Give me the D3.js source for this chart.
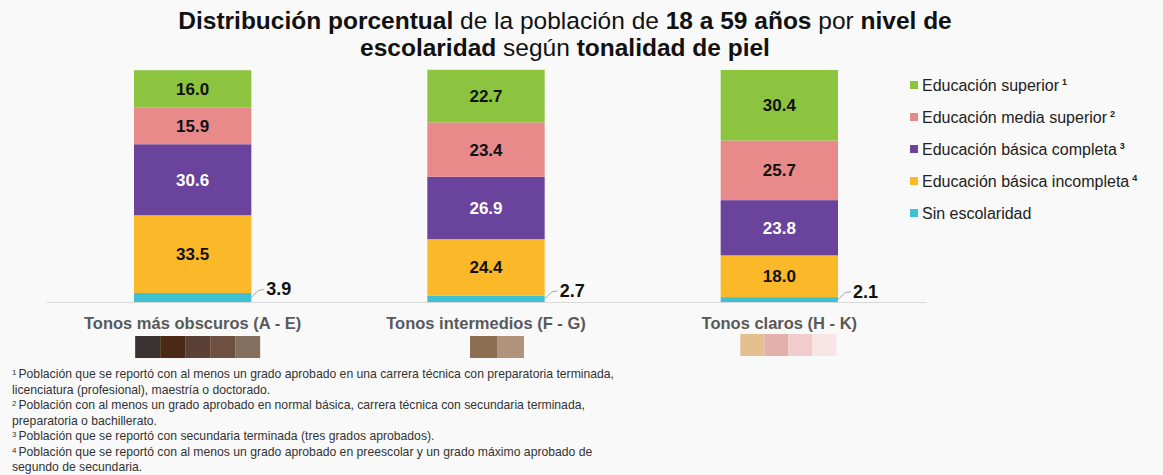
<!DOCTYPE html>
<html>
<head>
<meta charset="utf-8">
<script src="https://cdn.jsdelivr.net/npm/d3@7"></script>
<style>
  body { margin: 0; background: #f9f9f9; }
  svg { display: block; font-family: "Liberation Sans", Arial, sans-serif; }
</style>
</head>
<body>
<svg id="chart"></svg>
<script>
const categorias = ["Tonos más obscuros (A - E)", "Tonos intermedios (F - G)", "Tonos claros (H - K)"];
const niveles = ["Sin escolaridad", "Educación básica incompleta", "Educación básica completa", "Educación media superior", "Educación superior"];
const notas = ["", "4", "3", "2", "1"];
const colores = ["#3ec1d3", "#fbb829", "#6a449c", "#e88a8a", "#8cc43f"];

const sinEscolaridad = [3.9, 2.7, 2.1];
const basicaIncompleta = [33.5, 24.4, 18.0];
const basicaCompleta = [30.6, 26.9, 23.8];
const mediaSuperior = [15.9, 23.4, 25.7];
const superior = [16.0, 22.7, 30.4];

const tonos = [
  ["#383330", "#4a2a14", "#5a4035", "#6e5040", "#857060"],
  ["#8c6e52", "#b0937a"],
  ["#e4c08e", "#e4b0ac", "#f0cccc", "#f8e6e6"]
];

const footnotes = [
  ["1", "Población que se reportó con al menos un grado aprobado en una carrera técnica con preparatoria terminada,"],
  ["", "licenciatura (profesional), maestría o doctorado."],
  ["2", "Población con al menos un grado aprobado en normal básica, carrera técnica con secundaria terminada,"],
  ["", "preparatoria o bachillerato."],
  ["3", "Población que se reportó con secundaria terminada (tres grados aprobados)."],
  ["4", "Población que se reportó con al menos un grado aprobado en preescolar y un grado máximo aprobado de"],
  ["", "segundo de secundaria."]
];

const WIDTH = 1163;
const HEIGHT = 475;

const svg = d3.select("#chart")
  .attr("width", WIDTH)
  .attr("height", HEIGHT);

svg.append("rect").attr("width", WIDTH).attr("height", HEIGHT).attr("fill", "#f9f9f9");

// titulo
const titulo = svg.append("g")
  .attr("font-size", 24.5)
  .attr("fill", "#111");
const linea1 = [["Distribución porcentual", true], [" de la población de ", false], ["18 a 59 años", true], [" por ", false], ["nivel de", true]];
const linea2 = [["escolaridad", true], [" según ", false], ["tonalidad de piel", true]];
[linea1, linea2].forEach((linea, i) => {
  const t = titulo.append("text")
    .attr("x", 565)
    .attr("y", 29 + i * 27)
    .attr("text-anchor", "middle");
  linea.forEach(([txt, b]) => {
    t.append("tspan").attr("font-weight", b ? "bold" : "normal").text(txt);
  });
});

const series = [sinEscolaridad, basicaIncompleta, basicaCompleta, mediaSuperior, superior];
const tabla = categorias.map((c, i) => {
  const row = { cat: c };
  niveles.forEach((n, j) => row[n] = series[j][i]);
  return row;
});
const stack = d3.stack().keys(niveles)(tabla);

const x = d3.scaleBand()
  .domain(categorias)
  .range([46, 926])
  .paddingInner(0.6)
  .paddingOuter(0.3);

const y = d3.scaleLinear()
  .domain([0, 100])
  .range([302, 70]);

const color = d3.scaleOrdinal().domain(niveles).range(colores);

// eje
svg.append("g")
  .attr("transform", `translate(0, ${y(0)})`)
  .call(d3.axisBottom(x).tickSize(0).tickSizeOuter(0).tickFormat(""))
  .call(g => g.select(".domain").attr("stroke", "#d9d9d9"));

const capas = svg.append("g")
  .selectAll("g")
  .data(stack)
  .join("g")
  .attr("fill", d => color(d.key));

capas.selectAll("rect")
  .data(d => d)
  .join("rect")
  .attr("x", d => x(d.data.cat))
  .attr("y", d => y(d[1]))
  .attr("width", x.bandwidth())
  .attr("height", d => y(d[0]) - y(d[1]));

// etiquetas dentro
stack.forEach((capa, j) => {
  if (j === 0) return;
  svg.append("g").selectAll("text")
    .data(capa)
    .join("text")
    .attr("x", d => x(d.data.cat) + x.bandwidth() / 2)
    .attr("y", d => (y(d[0]) + y(d[1])) / 2 + 6)
    .attr("text-anchor", "middle")
    .attr("font-size", 17)
    .attr("font-weight", "bold")
    .attr("fill", j === 2 ? "#fff" : "#111")
    .text(d => d3.format(".1f")(d[1] - d[0]));
});

// etiquetas fuera (sin escolaridad)
const fuera = svg.append("g").selectAll("g")
  .data(stack[0])
  .join("g");
fuera.append("path")
  .attr("d", d => {
    const x0 = x(d.data.cat) + x.bandwidth();
    const y0 = y(d[1] / 2);
    return `M${x0},${y0} L${x0 + 7},${y0 - 7} L${x0 + 13},${y0 - 8}`;
  })
  .attr("fill", "none")
  .attr("stroke", "#a6a6a6")
  .attr("stroke-width", 1);
fuera.append("text")
  .attr("x", d => x(d.data.cat) + x.bandwidth() + 15)
  .attr("y", d => y(d[1] / 2) - 2)
  .attr("font-size", 18)
  .attr("font-weight", "bold")
  .attr("fill", "#111")
  .text(d => d3.format(".1f")(d[1] - d[0]));

// categorias
svg.append("g").selectAll("text")
  .data(categorias)
  .join("text")
  .attr("x", d => x(d) + x.bandwidth() / 2)
  .attr("y", 329)
  .attr("text-anchor", "middle")
  .attr("font-size", 16.5)
  .attr("font-weight", "bold")
  .attr("fill", "#595959")
  .text(d => d);

// muestras de tono
const tonoTop = [336, 336, 334];
const tonoAncho = [25, 27, 24];
const tonoDesp = [5, 11, 9];
categorias.forEach((c, i) => {
  const w = tonoAncho[i];
  const total = w * tonos[i].length;
  const x0 = x(c) + x.bandwidth() / 2 - total / 2 + tonoDesp[i];
  svg.append("g").selectAll("rect")
    .data(tonos[i])
    .join("rect")
    .attr("x", (d, k) => x0 + k * w)
    .attr("y", tonoTop[i])
    .attr("width", w)
    .attr("height", 22)
    .attr("fill", d => d);
});

// leyenda
const leyenda = svg.append("g").selectAll("g")
  .data(niveles.slice().reverse())
  .join("g")
  .attr("transform", (d, i) => `translate(910, ${85 + i * 32})`);
leyenda.append("rect")
  .attr("y", -4)
  .attr("width", 8)
  .attr("height", 8)
  .attr("fill", d => color(d));
const lt = leyenda.append("text")
  .attr("x", 12)
  .attr("y", 5.5)
  .attr("font-size", 16)
  .attr("fill", "#222");
lt.append("tspan").text(d => d);
lt.append("tspan")
  .attr("dx", 3)
  .attr("dy", -6)
  .attr("font-size", 9)
  .attr("font-weight", "bold")
  .text(d => notas[niveles.indexOf(d)]);

// notas al pie
const fn = svg.append("g").selectAll("text")
  .data(footnotes)
  .join("text")
  .attr("x", 12)
  .attr("y", (d, i) => 378 + i * 15.5)
  .attr("font-size", 12.2)
  .attr("fill", "#333");
fn.append("tspan")
  .attr("font-size", 8)
  .attr("dy", -3)
  .text(d => d[0]);
fn.append("tspan")
  .attr("dy", d => d[0] ? 3 : 0)
  .attr("dx", d => d[0] ? 2 : 0)
  .text(d => d[1]);
</script>
</body>
</html>
